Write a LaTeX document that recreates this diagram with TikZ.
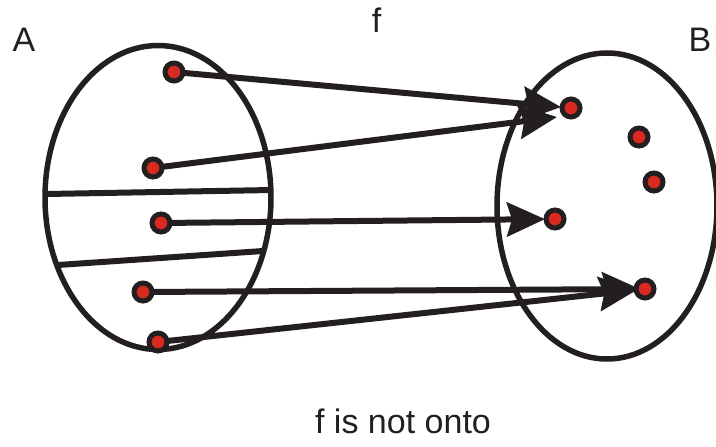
\documentclass[tikz,border=0pt]{standalone}
\usepackage{fontspec}
\setmainfont{Liberation Sans}
\usetikzlibrary{arrows.meta,backgrounds}
\definecolor{ink}{RGB}{35,31,32}
\definecolor{dotred}{RGB}{216,42,32}
\tikzset{
  pt/.style={circle,draw=ink,fill=dotred,line width=5pt,minimum size=18pt,inner sep=0pt},
  maparrow/.style={draw=ink,line width=6pt,-{Stealth[length=38pt,width=34pt,inset=5pt]}},
  lbl/.style={font=\fontsize{34}{40}\selectfont,text=ink,inner sep=0pt}
}
\begin{document}
\begin{tikzpicture}[x=1pt,y=-1pt]
  \useasboundingbox (0,0) rectangle (716,447);
  % the two sets
  \draw[ink,line width=5.5pt] (158,197.5) ellipse [x radius=113pt, y radius=152pt];
  \draw[ink,line width=5.5pt] (607,206) ellipse [x radius=110pt, y radius=153pt];
  \draw[ink,line width=6pt] (47,194) -- (272,190);
  \draw[ink,line width=6pt] (58,265) -- (263,251);
  % elements
  \foreach \n/\x/\y in {a1/174/72, a2/153/168, a3/161/223, a4/143/292, a5/158/342,
                        b1/571/108, b2/639/137, b3/654/182, b4/555/219, b5/645/289}
    \node[pt] (\n) at (\x,\y) {};
  \coordinate (t2) at (557,117);
  % the map f
  \begin{scope}[on background layer]
    \foreach \s/\t/\d in {a1/b1/10, a3/b4/10, a4/b5/5, a5/b5/8}
      \draw[maparrow, shorten >=\d pt] (\s.center) -- (\t.center);
    \draw[maparrow] (a2.center) -- (t2);
  \end{scope}
  \node[lbl] (A) at (24,40) {A};
  \node[lbl] (B) at (700,40) {B};
  \node[lbl] (f) at (376.5,20.5) {f};
  \node[lbl] (caption) at (403,421.5) {f is not onto};
\end{tikzpicture}
\end{document}
